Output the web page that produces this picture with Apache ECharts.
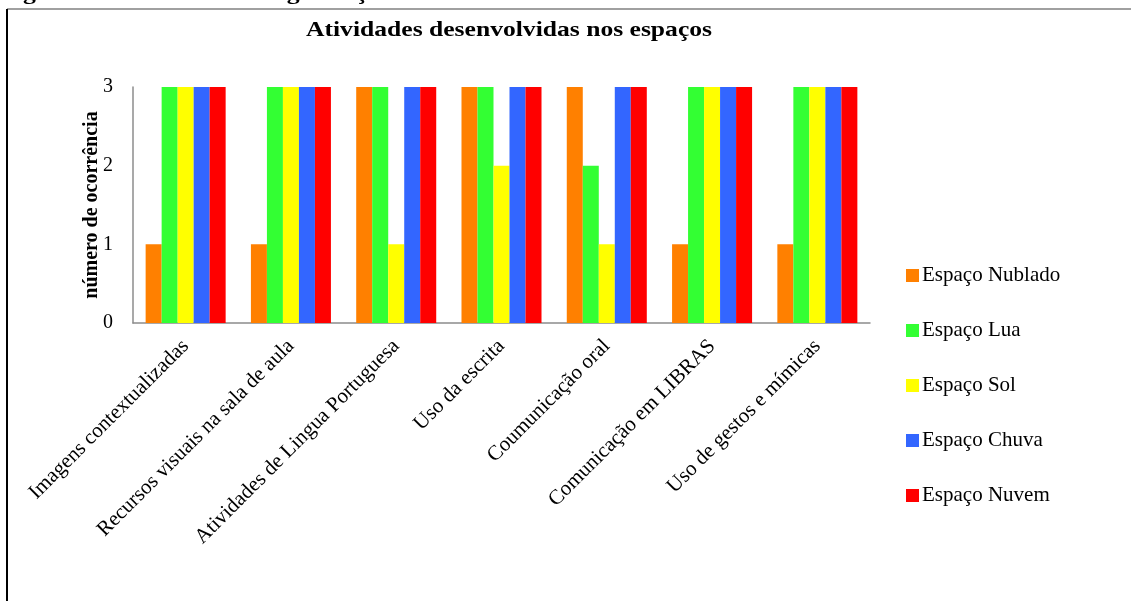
<!DOCTYPE html>
<html>
<head>
<meta charset="utf-8">
<script src="https://cdn.jsdelivr.net/npm/echarts@6/dist/echarts.min.js"></script>
<style>
  html, body { margin: 0; padding: 0; background: #fff; }
  #chart { width: 1131px; height: 601px; }
</style>
</head>
<body>
<div id="chart"></div>
<script>
const categories = [
  "Imagens contextualizadas",
  "Recursos visuais na sala de aula",
  "Atividades de Lingua Portuguesa",
  "Uso da escrita",
  "Coumunicação oral",
  "Comunicação em LIBRAS",
  "Uso de gestos e mímicas",
];
const seriesNames = ["Espaço Nublado", "Espaço Lua", "Espaço Sol", "Espaço Chuva", "Espaço Nuvem"];
const nublado = [1, 1, 3, 3, 3, 1, 1];
const lua = [3, 3, 3, 3, 2, 3, 3];
const sol = [3, 3, 1, 2, 1, 3, 3];
const chuva = [3, 3, 3, 3, 3, 3, 3];
const nuvem = [3, 3, 3, 3, 3, 3, 3];
const yTicks = [0, 1, 2, 3];
const colors = ["#FF8000", "#33FF33", "#FFFF00", "#3366FF", "#FF0000"];

const titleText = "Atividades desenvolvidas nos espaços";
const captionText = "Figura 4 – Gráfico de categorização das atividades e número de ocorrências";

const font = "'Liberation Serif', 'Times New Roman', serif";
const values = [nublado, lua, sol, chuva, nuvem];

// the source image is a bit stretched sideways, so widen the heading texts to fit
function textWidth(text, css) {
  const ctx = document.createElement("canvas").getContext("2d");
  ctx.font = css;
  return ctx.measureText(text).width;
}
const titleFont = "bold 22px " + font;
const captionFont = "bold 21px " + font;
const titleScale = 406 / textWidth(titleText, titleFont);
const captionScale = 830 / textWidth(captionText, captionFont);

const chart = echarts.init(document.getElementById("chart"));
const option = {
  animation: false,
  color: colors,
  graphic: [
    {
      type: "text",
      x: 509,
      y: 19,
      scaleX: titleScale,
      style: {
        text: titleText,
        font: titleFont,
        fill: "#000",
        align: "center",
        verticalAlign: "top",
      },
    },
    {
      type: "text",
      x: 0,
      y: -17,
      scaleX: captionScale,
      style: {
        text: captionText,
        font: captionFont,
        fill: "#000",
        align: "left",
        verticalAlign: "top",
      },
    },
    {
      type: "line",
      shape: { x1: 7, y1: 9, x2: 1131, y2: 9 },
      style: { stroke: "#808080", lineWidth: 1.5 },
    },
    {
      type: "line",
      shape: { x1: 7, y1: 9, x2: 7, y2: 601 },
      style: { stroke: "#000", lineWidth: 2 },
    },
  ],
  legend: {
    orient: "vertical",
    left: 901,
    top: 260,
    itemWidth: 13,
    itemHeight: 13,
    itemGap: 34,
    icon: "rect",
    data: seriesNames,
    textStyle: { fontFamily: font, fontSize: 21, color: "#000", padding: [0, 0, 0, -2] },
  },
  grid: { left: 133, right: 261, top: 87, bottom: 278, containLabel: false },
  xAxis: {
    type: "category",
    data: categories,
    axisLine: { lineStyle: { color: "#8c8c8c", width: 1.5 } },
    axisTick: { show: false },
    axisLabel: {
      rotate: 45,
      interval: 0,
      margin: 20,
      fontFamily: font,
      fontSize: 21,
      color: "#000",
    },
  },
  yAxis: {
    type: "value",
    min: 0,
    max: 3,
    interval: 1,
    name: "número de ocorrência",
    nameLocation: "center",
    nameGap: 31,
    nameMoveOverlap: false,
    nameTextStyle: { fontFamily: font, fontSize: 20, fontWeight: "bold", color: "#000" },
    axisLine: { show: true, lineStyle: { color: "#8c8c8c", width: 1.5 } },
    axisTick: { show: false },
    splitLine: { show: false },
    axisLabel: {
      margin: 20,
      fontFamily: font,
      fontSize: 20,
      color: "#000",
      formatter: (v) => (yTicks.includes(v) ? String(v) : ""),
    },
  },
  series: seriesNames.map((name, i) => ({
    name,
    type: "bar",
    data: values[i],
    barGap: "0%",
    barCategoryGap: "24%",
    itemStyle: { color: colors[i] },
  })),
};
chart.setOption(option);
</script>
</body>
</html>
